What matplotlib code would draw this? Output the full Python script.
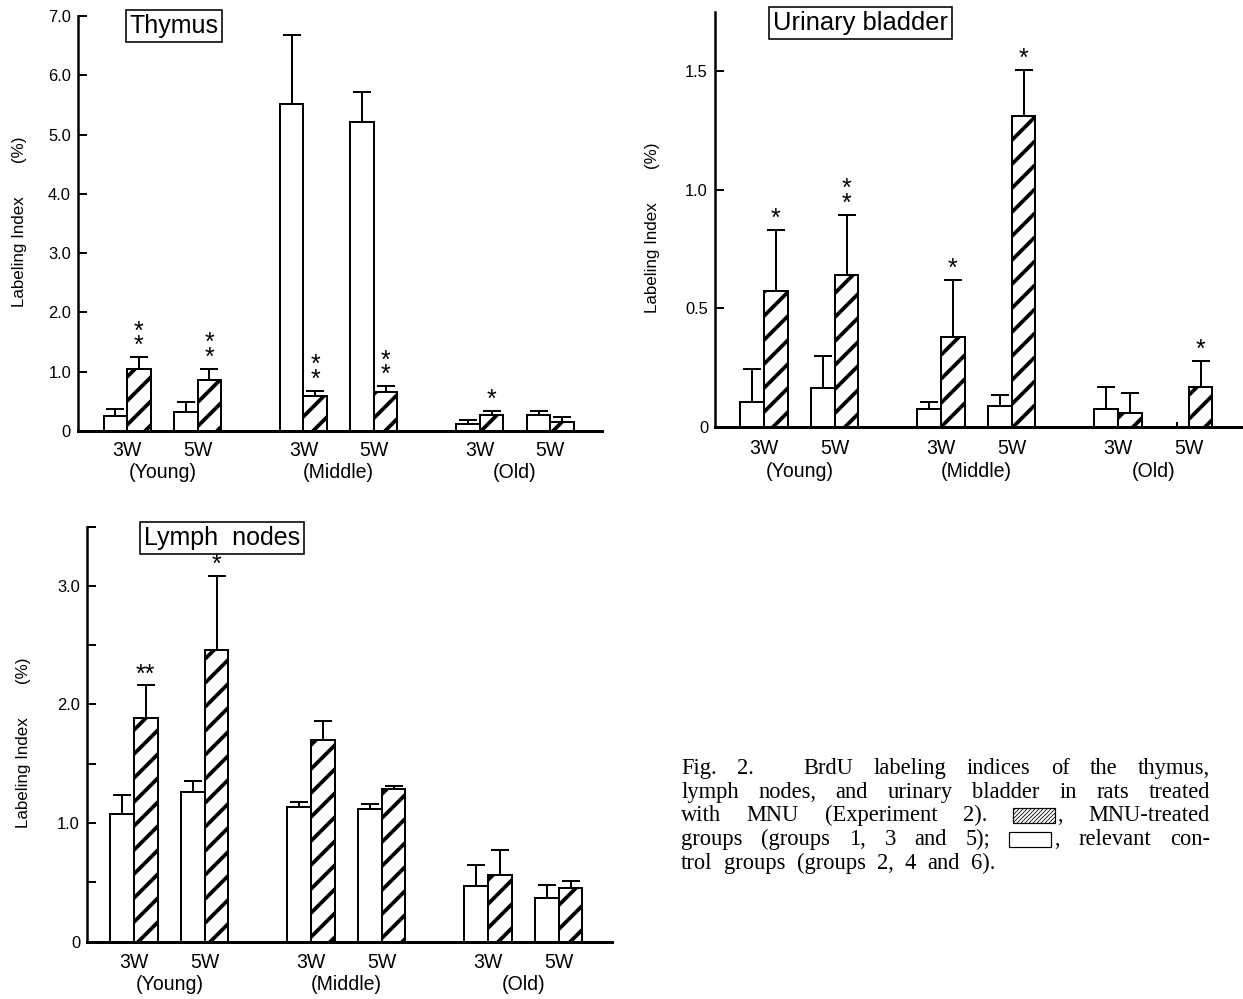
import matplotlib
matplotlib.use("Agg")
import matplotlib.pyplot as plt
import numpy as np
from matplotlib.patches import Rectangle

plt.rcParams['font.family'] = ['Liberation Sans', 'DejaVu Sans']
plt.rcParams['hatch.linewidth'] = 3.8

# ---------------- data ----------------
weeks = ["3W", "5W", "3W", "5W", "3W", "5W"]
ages = ["(Young)", "(Middle)", "(Old)"]

# order: Young 3W, Young 5W, Middle 3W, Middle 5W, Old 3W, Old 5W
thymus_ctrl = [0.25, 0.32, 5.51, 5.21, 0.12, 0.27]
thymus_ctrl_err = [0.12, 0.17, 1.17, 0.50, 0.07, 0.06]
thymus_mnu = [1.05, 0.86, 0.59, 0.66, 0.27, 0.15]
thymus_mnu_err = [0.20, 0.19, 0.09, 0.10, 0.07, 0.08]
thymus_sig = ["*\n*", "*\n*", "*\n*", "*\n*", "*", ""]

bladder_ctrl = [0.107, 0.163, 0.075, 0.087, 0.078, 0.0]
bladder_ctrl_err = [0.138, 0.137, 0.032, 0.048, 0.092, 0.02]
bladder_mnu = [0.575, 0.64, 0.38, 1.31, 0.057, 0.17]
bladder_mnu_err = [0.255, 0.255, 0.24, 0.195, 0.088, 0.11]
bladder_sig = ["*", "*\n*", "*", "*", "", "*"]

lymph_ctrl = [1.075, 1.26, 1.135, 1.12, 0.47, 0.37]
lymph_ctrl_err = [0.16, 0.09, 0.045, 0.04, 0.175, 0.105]
lymph_mnu = [1.885, 2.46, 1.70, 1.29, 0.56, 0.455]
lymph_mnu_err = [0.275, 0.62, 0.16, 0.02, 0.21, 0.055]
lymph_sig = ["**", "*", "", "", "", ""]

thymus_yticks = [0, 1, 2, 3, 4, 5, 6, 7]
thymus_yticklabels = ["0", "1.0", "2.0", "3.0", "4.0", "5.0", "6.0", "7.0"]
bladder_yticks = [0, 0.5, 1.0, 1.5]
bladder_yticklabels = ["0", "0.5", "1.0", "1.5"]
lymph_yticks = [0, 0.5, 1.0, 1.5, 2.0, 2.5, 3.0, 3.5]
lymph_yticklabels = ["0", "", "1.0", "", "2.0", "", "3.0", ""]

caption_lines = [
    ["Fig.", "2.", "BrdU", "labeling", "indices", "of", "the", "thymus,"],
    ["lymph", "nodes,", "and", "urinary", "bladder", "in", "rats", "treated"],
    ["with", "MNU", "(Experiment", "2).", ("H", ","), "MNU-treated"],
    ["groups", "(groups", "1,", "3", "and", "5);", ("W", ","), "relevant", "con-"],
    ["trol", "groups", "(groups", "2,", "4", "and", "6)."],
]

# ---------------- layout ----------------
W_PX, H_PX = 1243, 999
DPI = 72
fig = plt.figure(figsize=(W_PX / DPI, H_PX / DPI), dpi=DPI)

centers = np.array([0, 3, 7.5, 10.5, 15, 18])
age_centers = [1.5, 9.0, 16.5]


def px_axes(l, r, top, bottom):
    return fig.add_axes([l / W_PX, 1 - bottom / H_PX, (r - l) / W_PX, (bottom - top) / H_PX])


def panel(ax, ctrl, ctrl_err, mnu, mnu_err, sig, ylim, yticks, yticklabels, xlim,
          title, title_xy, ylab_xy, pads, title_fs):
    xc = centers - 0.5
    xm = centers + 0.5
    ax.bar(xc, ctrl, width=1.0, facecolor="white", edgecolor="black", linewidth=2, zorder=2)
    ax.bar(xm, mnu, width=1.0, facecolor="white", edgecolor="black", linewidth=2,
           hatch="/", zorder=2)
    ctrl = np.asarray(ctrl)
    ctrl_err = np.asarray(ctrl_err)
    pos = ctrl > 0
    ax.errorbar(xc[pos], ctrl[pos], yerr=[np.zeros(pos.sum()), ctrl_err[pos]], fmt="none",
                ecolor="black", elinewidth=2, capsize=9, capthick=2, zorder=3)
    if (~pos).any():
        ax.errorbar(xc[~pos], ctrl[~pos], yerr=[np.zeros((~pos).sum()), ctrl_err[~pos]],
                    fmt="none", ecolor="black", elinewidth=2, capsize=0, zorder=3)
    ax.errorbar(xm, mnu, yerr=[np.zeros(len(mnu)), mnu_err], fmt="none",
                ecolor="black", elinewidth=2, capsize=9, capthick=2, zorder=3)
    for x, v, e, s in zip(xm, mnu, mnu_err, sig):
        if s:
            ax.annotate(s, (x, v + e), xytext=(0, -1), textcoords="offset points",
                        ha="center", va="bottom", fontsize=25, linespacing=0.5)
    ax.set_xlim(*xlim)
    ax.set_ylim(*ylim)
    for sp in ["top", "right"]:
        ax.spines[sp].set_visible(False)
    ax.spines["left"].set_linewidth(2.5)
    ax.spines["bottom"].set_linewidth(3)
    ax.set_yticks(yticks)
    ax.set_yticklabels(yticklabels)
    ax.tick_params(axis="y", direction="in", length=9, width=2, pad=7, labelsize=16.5)
    ax.set_xticks(centers)
    ax.set_xticklabels(weeks)
    ax.set_xticks(age_centers, minor=True)
    ax.set_xticklabels(ages, minor=True)
    ax.tick_params(axis="x", which="major", length=0, pad=pads[0], labelsize=19.5)
    ax.tick_params(axis="x", which="minor", length=0, pad=pads[1], labelsize=19.5)
    ax.set_ylabel("Labeling Index       (%)", fontsize=17)
    ax.yaxis.set_label_coords(*ylab_xy)
    ax.text(title_xy[0], title_xy[1], title, transform=ax.transAxes, ha="center",
            va="center", fontsize=title_fs,
            bbox=dict(boxstyle="square,pad=0.15", facecolor="white", edgecolor="black",
                      linewidth=1.6))


ax1 = px_axes(78, 602, 16, 431)
panel(ax1, thymus_ctrl, thymus_ctrl_err, thymus_mnu, thymus_mnu_err, thymus_sig,
      (0, 7), thymus_yticks, thymus_yticklabels, (-2.09, 20.2),
      "Thymus", (0.183, 0.976), (-0.097, 0.504), (10, 32), 25)

ax2 = px_axes(715, 1243, 12, 427)
panel(ax2, bladder_ctrl, bladder_ctrl_err, bladder_mnu, bladder_mnu_err, bladder_sig,
      (0, 1.75), bladder_yticks, bladder_yticklabels, (-2.08, 20.3),
      "Urinary bladder", (0.275, 0.973), (-0.104, 0.48), (12, 35), 25.5)

ax3 = px_axes(87, 612, 526.5, 941.5)
panel(ax3, lymph_ctrl, lymph_ctrl_err, lymph_mnu, lymph_mnu_err, lymph_sig,
      (0, 3.5), lymph_yticks, lymph_yticklabels, (-1.99, 20.25),
      "Lymph  nodes", (0.257, 0.972), (-0.106, 0.48), (11, 33), 25)

# ---------------- caption ----------------
CAP_FS = 22.5
CAP_FAMILY = ["Liberation Serif", "DejaVu Serif"]
x0, x1 = 681, 1210
baselines = [774, 798, 821, 845, 869]
SW_W, SW_H = 42, 15

fig.canvas.draw()
renderer = fig.canvas.get_renderer()


def tw(s):
    t = fig.text(0, 0, s, fontsize=CAP_FS, family=CAP_FAMILY)
    w = t.get_window_extent(renderer).width
    t.remove()
    return w


space_w = tw("a b") - tw("ab")
for li, (tokens, yb) in enumerate(zip(caption_lines, baselines)):
    widths = []
    for tok in tokens:
        if isinstance(tok, tuple):
            widths.append(SW_W + 3 + tw(tok[1]))
        else:
            widths.append(tw(tok))
    weights = [1.0] * (len(tokens) - 1)
    if li == 0:
        weights[1] = 2.4
    last = li == len(caption_lines) - 1
    if last:
        gap_unit = space_w * 2.0
    else:
        gap_unit = (x1 - x0 - sum(widths)) / sum(weights)
    x = x0
    yf = 1 - yb / H_PX
    for i, (tok, w) in enumerate(zip(tokens, widths)):
        if isinstance(tok, tuple):
            kind, trail = tok
            rect = Rectangle((x / W_PX, (H_PX - yb - 2) / H_PX), SW_W / W_PX, SW_H / H_PX,
                             transform=fig.transFigure, facecolor="white", edgecolor="black",
                             linewidth=1.2, hatch="//////" if kind == "H" else None)
            if hasattr(rect, "set_hatch_linewidth"):
                rect.set_hatch_linewidth(0.8)
            fig.patches.append(rect)
            fig.text((x + SW_W + 3) / W_PX, yf, trail, fontsize=CAP_FS, family=CAP_FAMILY,
                     va="baseline", ha="left")
        else:
            fig.text(x / W_PX, yf, tok, fontsize=CAP_FS, family=CAP_FAMILY,
                     va="baseline", ha="left")
        if i < len(weights):
            x += w + gap_unit * weights[i]

fig.savefig("out.png", dpi=DPI)
